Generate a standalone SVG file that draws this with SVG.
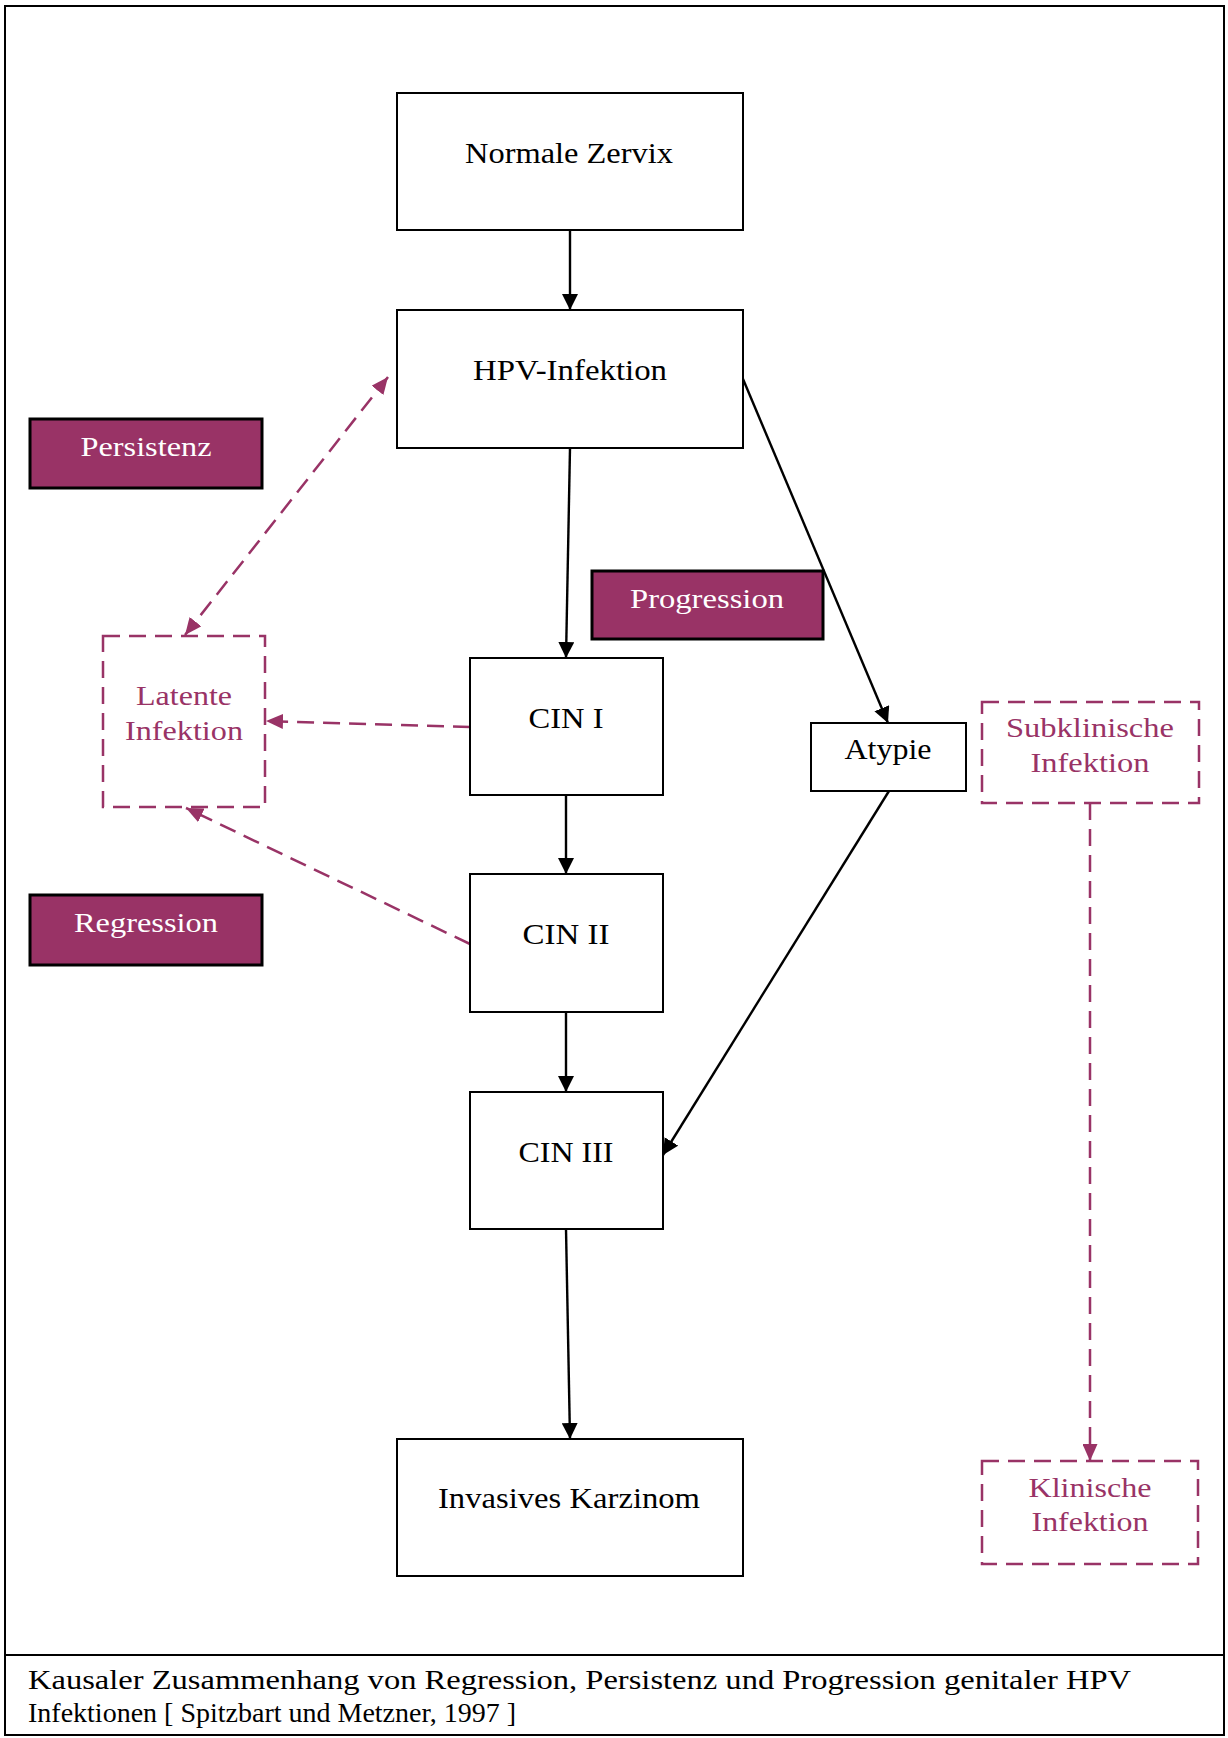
<svg xmlns="http://www.w3.org/2000/svg" width="1228" height="1738" viewBox="0 0 1228 1738">
<style>
text{font-family:"Liberation Serif","Times New Roman",serif;text-anchor:middle}
.box{fill:#fff;stroke:#000;stroke-width:2}
.fill{fill:#993366;stroke:#000;stroke-width:3}
.dbox{fill:none;stroke:#993366;stroke-width:2.5;stroke-dasharray:17 9}
.t{font-size:29px;fill:#000}
.w{font-size:28px;fill:#fff}
.p{font-size:28px;fill:#993366}
.cap{font-size:28px;fill:#000;text-anchor:start}
.c{stroke:#000;stroke-width:2.4;fill:none;marker-end:url(#ab)}
.d{stroke:#993366;stroke-width:2.5;fill:none;stroke-dasharray:17 9;marker-end:url(#ap)}
</style>
<defs>
<marker id="ab" markerUnits="userSpaceOnUse" markerWidth="16" markerHeight="16" refX="16" refY="8" orient="auto"><path d="M0,0L16,8L0,16z" fill="#000"/></marker>
<marker id="ap" markerUnits="userSpaceOnUse" markerWidth="17" markerHeight="15" refX="17" refY="7.5" orient="auto"><path d="M0,0L17,7.5L0,15z" fill="#993366"/></marker>
<marker id="aps" markerUnits="userSpaceOnUse" markerWidth="17" markerHeight="15" refX="0" refY="7.5" orient="auto"><path d="M17,0L0,7.5L17,15z" fill="#993366"/></marker>
</defs>
<rect x="0" y="0" width="1228" height="1738" fill="#fff"/>
<g id="frame">
<rect x="5" y="6" width="1219" height="1729" fill="none" stroke="#000" stroke-width="2"/>
<line x1="5" y1="1655" x2="1224" y2="1655" stroke="#000" stroke-width="2"/>
</g>
<g id="connectors">
<line class="c" x1="570" y1="230" x2="570" y2="310"/>
<line class="c" x1="570" y1="448" x2="566" y2="658"/>
<line class="c" x1="743" y1="379" x2="888" y2="723"/>
<line class="c" x1="889" y1="791" x2="663" y2="1155"/>
<line class="c" x1="566" y1="795" x2="566" y2="874"/>
<line class="c" x1="566" y1="1012" x2="566" y2="1092"/>
<line class="c" x1="566" y1="1229" x2="570" y2="1439"/>
<line class="d" x1="388" y1="377" x2="185" y2="635" marker-start="url(#aps)"/>
<line class="d" x1="470" y1="727" x2="266" y2="721"/>
<line class="d" x1="470" y1="944" x2="186" y2="808"/>
<line class="d" x1="1090" y1="803" x2="1090" y2="1461"/>
</g>
<g id="normale-zervix"><rect class="box" x="397" y="93" width="346" height="137"/><text class="t" x="569" y="163" textLength="208" lengthAdjust="spacingAndGlyphs">Normale Zervix</text></g>
<g id="hpv-infektion"><rect class="box" x="397" y="310" width="346" height="138"/><text class="t" x="570" y="380" textLength="194" lengthAdjust="spacingAndGlyphs">HPV-Infektion</text></g>
<g id="persistenz"><rect class="fill" x="30" y="419" width="232" height="69"/><text class="w" x="146" y="456" textLength="131" lengthAdjust="spacingAndGlyphs">Persistenz</text></g>
<g id="progression"><rect class="fill" x="592" y="571" width="231" height="68"/><text class="w" x="707" y="608" textLength="154" lengthAdjust="spacingAndGlyphs">Progression</text></g>
<g id="regression"><rect class="fill" x="30" y="895" width="232" height="70"/><text class="w" x="146" y="932" textLength="144" lengthAdjust="spacingAndGlyphs">Regression</text></g>
<g id="latente-infektion"><rect class="dbox" x="103" y="636" width="162" height="171"/><text class="p" x="184" y="705" textLength="96" lengthAdjust="spacingAndGlyphs">Latente</text><text class="p" x="184" y="740" textLength="118" lengthAdjust="spacingAndGlyphs">Infektion</text></g>
<g id="cin-1"><rect class="box" x="470" y="658" width="193" height="137"/><text class="t" x="566" y="728" textLength="75" lengthAdjust="spacingAndGlyphs">CIN I</text></g>
<g id="atypie"><rect class="box" x="811" y="723" width="155" height="68"/><text class="t" x="888" y="759" textLength="87" lengthAdjust="spacingAndGlyphs">Atypie</text></g>
<g id="subklinische-infektion"><rect class="dbox" x="982" y="702" width="217" height="101"/><text class="p" x="1090" y="737" textLength="168" lengthAdjust="spacingAndGlyphs">Subklinische</text><text class="p" x="1090" y="772" textLength="119" lengthAdjust="spacingAndGlyphs">Infektion</text></g>
<g id="cin-2"><rect class="box" x="470" y="874" width="193" height="138"/><text class="t" x="566" y="944" textLength="87" lengthAdjust="spacingAndGlyphs">CIN II</text></g>
<g id="cin-3"><rect class="box" x="470" y="1092" width="193" height="137"/><text class="t" x="566" y="1162" textLength="95" lengthAdjust="spacingAndGlyphs">CIN III</text></g>
<g id="invasives-karzinom"><rect class="box" x="397" y="1439" width="346" height="137"/><text class="t" x="569" y="1508" textLength="262" lengthAdjust="spacingAndGlyphs">Invasives Karzinom</text></g>
<g id="klinische-infektion"><rect class="dbox" x="982" y="1461" width="216" height="103"/><text class="p" x="1090" y="1497" textLength="123" lengthAdjust="spacingAndGlyphs">Klinische</text><text class="p" x="1090" y="1531" textLength="117" lengthAdjust="spacingAndGlyphs">Infektion</text></g>
<g id="caption">
<text class="cap" x="28" y="1689" textLength="1103" lengthAdjust="spacingAndGlyphs">Kausaler Zusammenhang von Regression, Persistenz und Progression genitaler HPV</text>
<text class="cap" x="28" y="1722" textLength="488" lengthAdjust="spacingAndGlyphs">Infektionen [ Spitzbart und Metzner, 1997 ]</text>
</g>
</svg>
